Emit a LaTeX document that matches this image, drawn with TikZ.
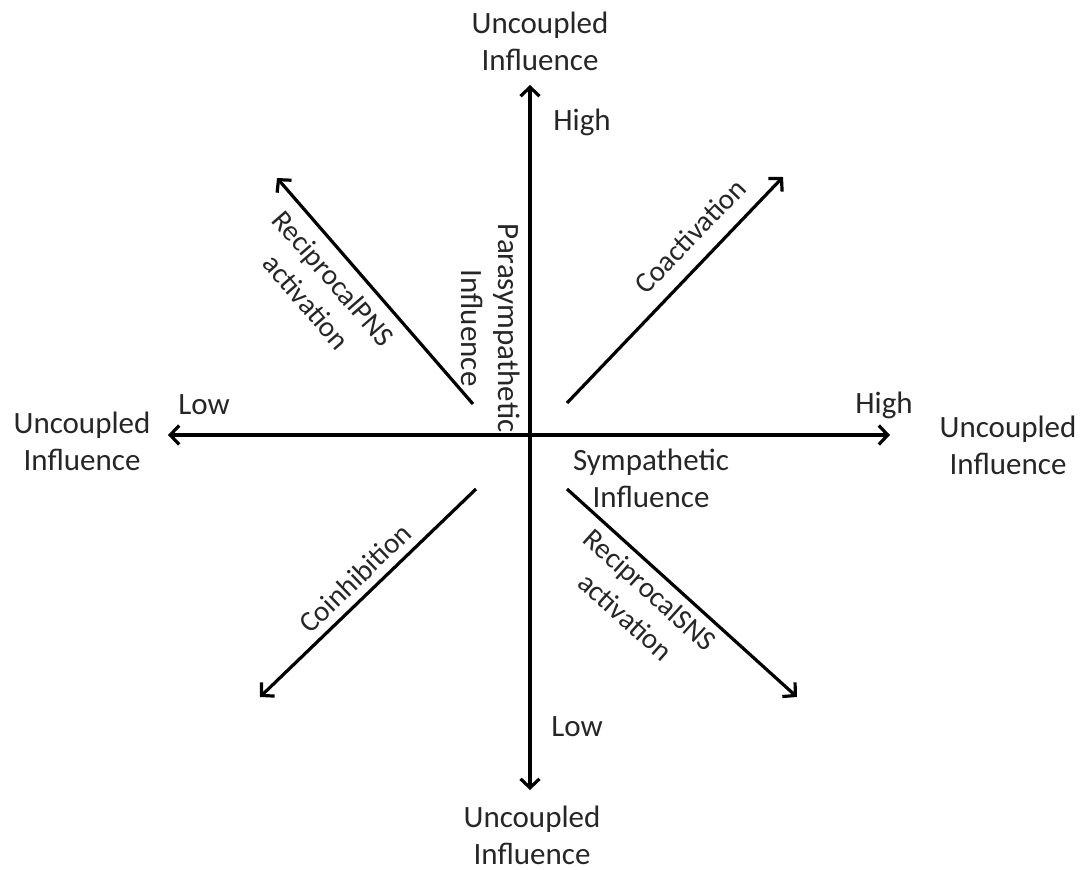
\documentclass[tikz,border=0pt]{standalone}
\usepackage{fontspec}
\setmainfont{Carlito}
\usetikzlibrary{arrows.meta}
\begin{document}
\begin{tikzpicture}[x=1pt,y=-1pt,
  lbl/.style={inner sep=0pt,text=black!85,font=\fontsize{31}{37}\selectfont,align=center},
  dlbl/.style={lbl,font=\fontsize{29}{36}\selectfont},
  axis/.style={line width=3.2pt,{Straight Barb[length=9pt,width=19pt,line width=3.2pt]}-{Straight Barb[length=9pt,width=19pt,line width=3.2pt]}},
  diag/.style={line width=3.2pt,-{Straight Barb[length=9pt,width=19pt,line width=3.2pt]}}]
\useasboundingbox (0,0) rectangle (1090,870);
% axis end points
\coordinate (vt) at (530,85);
\coordinate (vb) at (530,790);
\coordinate (hl) at (168,435);
\coordinate (hr) at (890,435);
\draw[axis] (vb) -- (vt);
\draw[axis] (hl) -- (hr);
% diagonal arrows
\coordinate (coS) at (567,403); \coordinate (coE) at (783,177);
\coordinate (pnS) at (473,404); \coordinate (pnE) at (277,178);
\coordinate (ciS) at (476,489); \coordinate (ciE) at (260,697);
\coordinate (snS) at (567,489); \coordinate (snE) at (797,697);
\draw[diag] (coS) -- (coE);
\draw[diag] (pnS) -- (pnE);
\draw[diag] (ciS) -- (ciE);
\draw[diag] (snS) -- (snE);
% end labels
\node[lbl] (uT) at (540,41) {Uncoupled\\Influence};
\node[lbl] (uL) at (82,441) {Uncoupled\\Influence};
\node[lbl] (uR) at (1008,445) {Uncoupled\\Influence};
\node[lbl] (uB) at (532,835) {Uncoupled\\Influence};
\node[lbl] (hT) at (582,122) {High};
\node[lbl] (lL) at (204,405) {Low};
\node[lbl] (hR) at (884,405) {High};
\node[lbl] (lB) at (577,727) {Low};
% axis names
\node[lbl,rotate=-90] (para) at (491,328) {Parasympathetic\\Influence};
\node[lbl] (symp) at (651,478) {Sympathetic\\Influence};
% diagonal labels
\node[dlbl,rotate=46] (coL) at (690,236) {Coactivation};
\node[dlbl,rotate=-49] (pnL) at (320,290) {ReciprocalPNS\\activation};
\node[dlbl,rotate=44] (ciL) at (355,578) {Coinhibition};
\node[dlbl,rotate=-42] (snL) at (638,603) {ReciprocalSNS\\activation};
\end{tikzpicture}
\end{document}
